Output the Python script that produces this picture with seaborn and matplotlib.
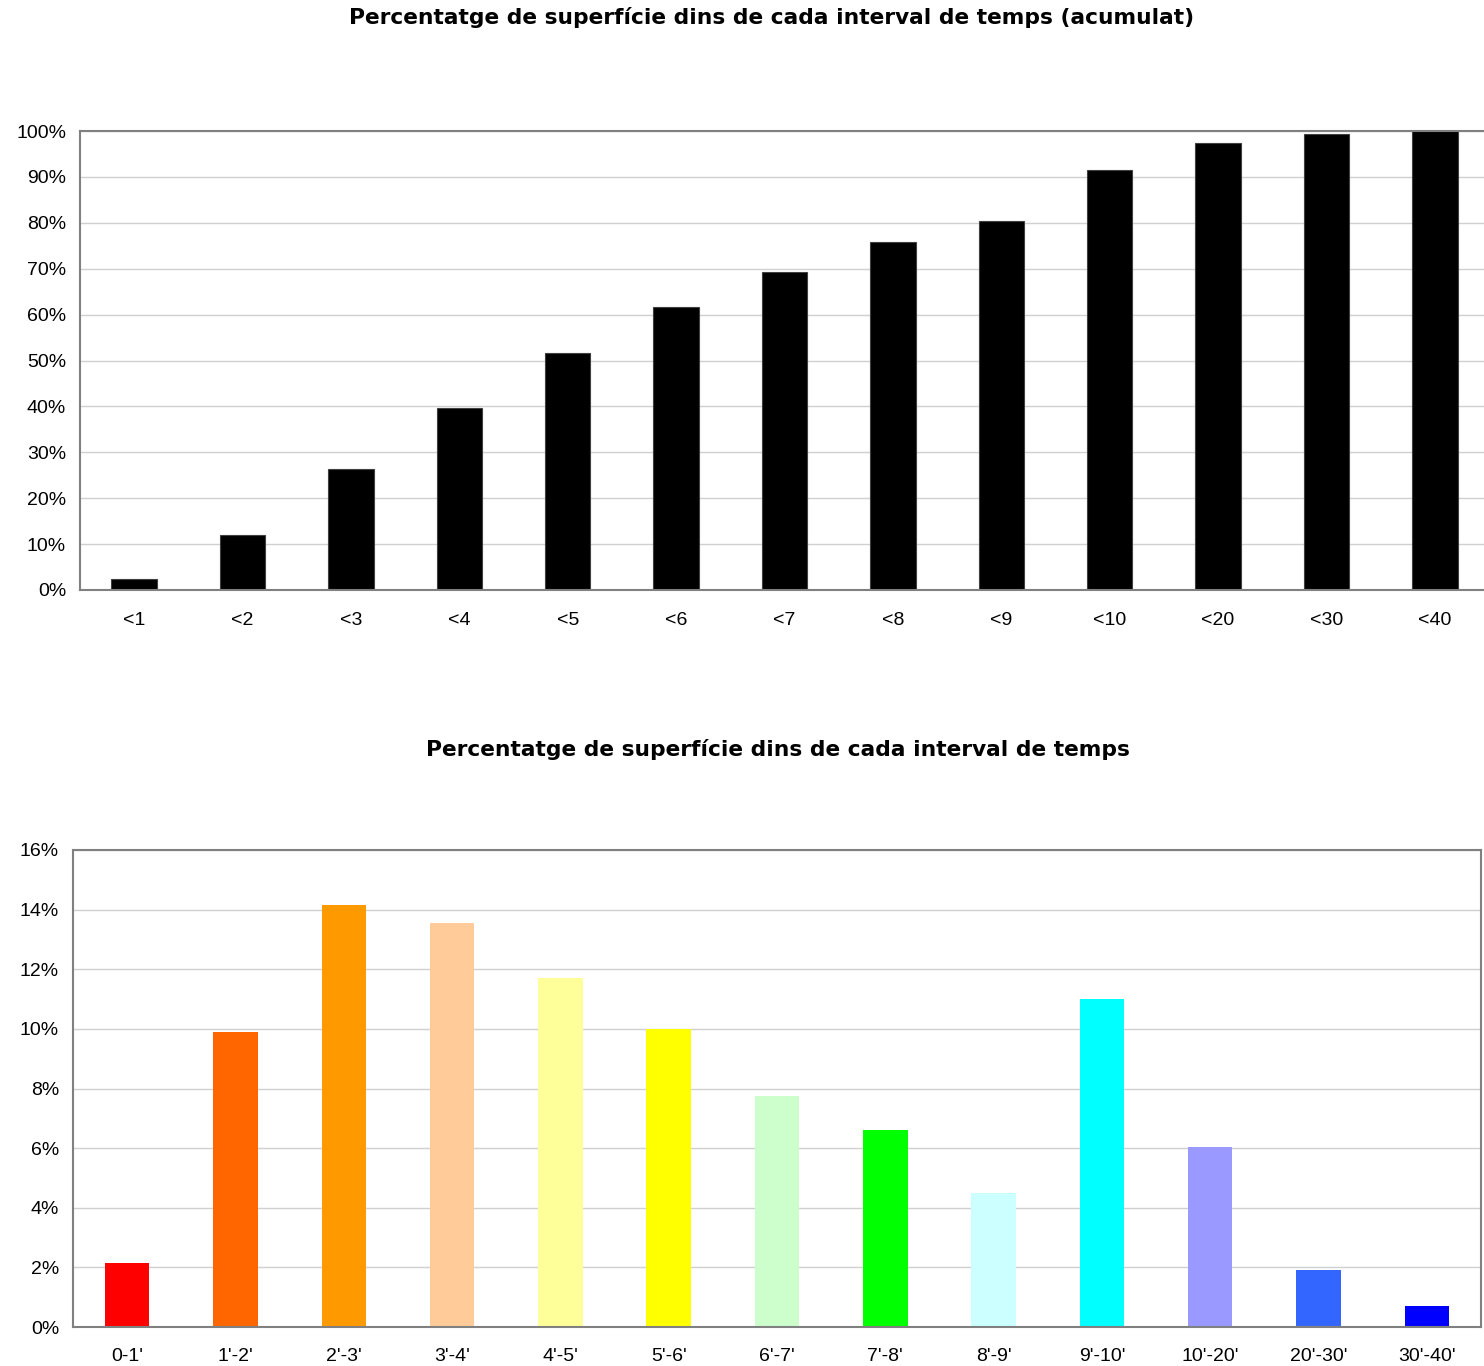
import matplotlib
matplotlib.use("Agg")
import matplotlib.pyplot as plt
import seaborn as sns
import pandas as pd

# Data
cum_labels = ["<1", "<2", "<3", "<4", "<5", "<6", "<7", "<8", "<9", "<10", "<20", "<30", "<40"]
cum_values = [2.4, 12.0, 26.4, 39.7, 51.6, 61.7, 69.3, 75.8, 80.4, 91.5, 97.4, 99.3, 100.0]

int_labels = ["0-1'", "1'-2'", "2'-3'", "3'-4'", "4'-5'", "5'-6'", "6'-7'",
              "7'-8'", "8'-9'", "9'-10'", "10'-20'", "20'-30'", "30'-40'"]
int_values = [2.15, 9.9, 14.15, 13.55, 11.7, 10.0, 7.75, 6.6, 4.5, 11.0, 6.05, 1.9, 0.7]
int_colors = ["#FF0000", "#FF6600", "#FF9900", "#FFCC99", "#FFFF99", "#FFFF00", "#CCFFCC",
              "#00FF00", "#CCFFFF", "#00FFFF", "#9999FF", "#3366FF", "#0000FF"]

sns.set_style("white")
plt.rcParams['font.family'] = ['Liberation Sans', 'DejaVu Sans']
plt.rcParams['text.color'] = 'black'
plt.rcParams['xtick.color'] = 'black'
plt.rcParams['ytick.color'] = 'black'

fig = plt.figure(figsize=(14.84, 13.66), dpi=100)
W, H = 1484, 1366

def px_axes(left, top, right, bottom):
    return fig.add_axes([left / W, 1 - bottom / H, (right - left) / W, (bottom - top) / H])

def style_axes(ax, ymax, step, xpad):
    ax.set_ylim(0, ymax)
    ax.set_yticks(range(0, ymax + 1, step))
    ax.set_yticklabels([f"{v}%" for v in range(0, ymax + 1, step)], fontsize=14)
    ax.tick_params(axis="x", labelsize=14, length=0, pad=xpad)
    ax.tick_params(axis="y", length=0, pad=10)
    ax.grid(axis="y", color="#D0D0D0", linewidth=1)
    ax.set_axisbelow(True)
    for s in ax.spines.values():
        s.set_visible(True)
        s.set_color("#808080")
        s.set_linewidth(1.5)
    ax.set_xlabel("")
    ax.set_ylabel("")

# Top: cumulative
ax1 = px_axes(80, 131, 1489, 590)
df1 = pd.DataFrame({"interval": cum_labels, "pct": cum_values})
sns.barplot(data=df1, x="interval", y="pct", color="black", width=0.42,
            edgecolor="#404040", linewidth=0.8, saturation=1, ax=ax1)
style_axes(ax1, 100, 10, 16)
ax1.set_xlim(-0.5, len(cum_labels) - 0.5)
fig.text(772 / W, 1 - 18 / H, "Percentatge de superfície dins de cada interval de temps (acumulat)",
         ha="center", va="center", fontsize=15.7, fontweight="bold", family="DejaVu Sans")

# Bottom: per interval
ax2 = px_axes(73, 850, 1481, 1327)
df2 = pd.DataFrame({"interval": int_labels, "pct": int_values})
sns.barplot(data=df2, x="interval", y="pct", hue="interval", palette=int_colors,
            width=0.41, saturation=1, legend=False, linewidth=0, ax=ax2)
style_axes(ax2, 16, 2, 15)
ax2.set_xlim(-0.5, len(int_labels) - 0.5)
fig.text(778 / W, 1 - 749 / H, "Percentatge de superfície dins de cada interval de temps",
         ha="center", va="center", fontsize=15.7, fontweight="bold", family="DejaVu Sans")

fig.savefig("out.png", dpi=100, facecolor="white")
